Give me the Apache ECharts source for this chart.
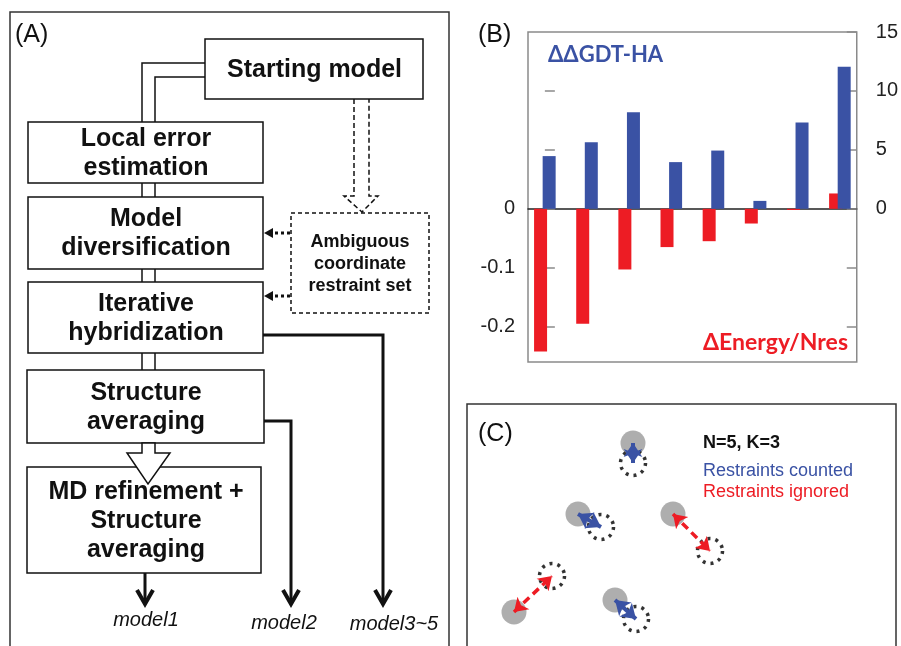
<!DOCTYPE html>
<html>
<head>
<meta charset="utf-8">
<script src="https://cdn.jsdelivr.net/npm/echarts@6/dist/echarts.min.js"></script>
<style>html,body{margin:0;padding:0;background:#fff}#chart{width:901px;height:646px}</style>
</head>
<body>
<div id="chart"></div>
<script>
// ---- Panel B data ----
const caseIdx = [0, 1, 2, 3, 4, 5, 6, 7];
const dEnergyPerRes = [-0.242, -0.195, -0.103, -0.065, -0.055, -0.025, -0.002, 0.026];
const ddGdtHa = [4.47, 5.65, 8.2, 3.96, 4.94, 0.67, 7.33, 12.06];
const leftTickValues = [-0.2, -0.1, 0, 0.1, 0.2];
const leftLabelValues = [-0.2, -0.1, 0];
const rightTickValues = [-10, -5, 0, 5, 10, 15];
const rightLabelValues = [0, 5, 10, 15];

// ---- Panel C data (diagram positions) ----
const atomPos = [[166, 39], [111, 110], [206, 110], [47, 208], [148, 196]];
const refPos = [[166, 59], [134, 123], [243, 147], [85, 172], [169, 215]];
const restraintCounted = [true, true, false, false, true];

// ---- Panel A text ----
const flowBoxes = [
  {text: 'Starting model', x: 205, y: 39, w: 218, h: 60},
  {text: 'Local error\nestimation', x: 28, y: 122, w: 235, h: 61},
  {text: 'Model\ndiversification', x: 28, y: 197, w: 235, h: 72},
  {text: 'Iterative\nhybridization', x: 28, y: 282, w: 235, h: 71},
  {text: 'Structure\naveraging', x: 27, y: 370, w: 237, h: 73},
  {text: 'MD refinement +\nStructure\naveraging', x: 27, y: 467, w: 234, h: 106}
];
const outputLabels = ['model1', 'model2', 'model3~5'];

const BLUE = '#3A52A4', RED = '#ED1C24';
const chart = echarts.init(document.getElementById('chart'));
const G = [];
const sans = 'Liberation Sans, Arial, sans-serif';

// Panel A frame
G.push({type: 'rect', shape: {x: 10, y: 12, width: 439, height: 700}, style: {fill: 'none', stroke: '#333', lineWidth: 1.5}, z: 1});
G.push({type: 'text', x: 15, y: 35, style: {text: '(A)', font: '25px ' + sans, fill: '#111', textVerticalAlign: 'middle'}, z: 5});

// connectors (double lines)
const lineStyle = {stroke: '#111', lineWidth: 1.5, fill: 'none'};
G.push({type: 'polyline', shape: {points: [[205, 63], [142, 63], [142, 122]]}, style: lineStyle, z: 2});
G.push({type: 'polyline', shape: {points: [[205, 77], [155, 77], [155, 122]]}, style: lineStyle, z: 2});
[[183, 197], [269, 282], [353, 370]].forEach(function (s) {
  G.push({type: 'line', shape: {x1: 142, y1: s[0], x2: 142, y2: s[1]}, style: lineStyle, z: 2});
  G.push({type: 'line', shape: {x1: 155, y1: s[0], x2: 155, y2: s[1]}, style: lineStyle, z: 2});
});

// boxes
flowBoxes.forEach(function (b, i) {
  G.push({type: 'rect', shape: {x: b.x, y: b.y, width: b.w, height: b.h}, style: {fill: '#fff', stroke: '#111', lineWidth: 1.5}, z: 3});
  G.push({type: 'text', x: i === 0 ? 314.5 : 146, y: b.y + b.h / 2 + 1,
    style: {text: b.text, font: 'bold 25px ' + sans, fill: '#111', textAlign: 'center', textVerticalAlign: 'middle', lineHeight: 29}, z: 4});
});

// hollow arrow Structure averaging -> MD
G.push({type: 'polygon', shape: {points: [[142, 443], [142, 453], [127, 453], [148, 484], [170, 453], [155, 453], [155, 443]]},
  style: {fill: '#fff', stroke: '#111', lineWidth: 1.5}, z: 5});

// dashed hollow arrow Starting model -> ambiguous set
G.push({type: 'polyline', shape: {points: [[354, 99], [354, 196], [344, 196], [362, 212], [378, 196], [369, 196], [369, 99]]},
  style: {fill: 'none', stroke: '#111', lineWidth: 1.5, lineDash: [5, 3]}, z: 5});

// ambiguous box
G.push({type: 'rect', shape: {x: 291, y: 213, width: 138, height: 100}, style: {fill: '#fff', stroke: '#111', lineWidth: 1.5, lineDash: [4, 3]}, z: 3});
G.push({type: 'text', x: 360, y: 264, style: {text: 'Ambiguous\ncoordinate\nrestraint set', font: 'bold 18px ' + sans, fill: '#111', textAlign: 'center', textVerticalAlign: 'middle', lineHeight: 22}, z: 4});

// dotted arrows
[233, 296].forEach(function (y) {
  G.push({type: 'line', shape: {x1: 290, y1: y, x2: 271, y2: y}, style: {stroke: '#111', lineWidth: 3, lineDash: [3, 3]}, z: 4});
  G.push({type: 'polygon', shape: {points: [[264, y], [273, y - 5], [273, y + 5]]}, style: {fill: '#111'}, z: 4});
});

// thick output arrows
const thick = {stroke: '#111', lineWidth: 3, fill: 'none'};
G.push({type: 'polyline', shape: {points: [[263, 335], [383, 335], [383, 603]]}, style: thick, z: 4});
G.push({type: 'polyline', shape: {points: [[264, 421], [291, 421], [291, 603]]}, style: thick, z: 4});
G.push({type: 'polyline', shape: {points: [[145, 573], [145, 603]]}, style: thick, z: 4});
[145, 291, 383].forEach(function (x) {
  G.push({type: 'polyline', shape: {points: [[x - 8, 590], [x, 604], [x + 8, 590]]}, style: {stroke: '#111', lineWidth: 4, fill: 'none', lineJoin: 'miter'}, z: 4});
});
[[146, 620], [284, 623], [394, 624]].forEach(function (p, i) {
  G.push({type: 'text', x: p[0], y: p[1], style: {text: outputLabels[i], font: 'italic 20px ' + sans, fill: '#111', textAlign: 'center', textVerticalAlign: 'middle'}, z: 4});
});

// Panel B texts
G.push({type: 'text', x: 478, y: 35, style: {text: '(B)', font: '25px ' + sans, fill: '#111', textVerticalAlign: 'middle'}, z: 5});
G.push({type: 'text', x: 548, y: 55, style: {text: '\u0394\u0394GDT-HA', font: 'bold 22px Lato, "Open Sans", sans-serif', fill: BLUE, textVerticalAlign: 'middle'}, z: 5});
G.push({type: 'text', x: 848, y: 343, style: {text: '\u0394Energy/Nres', font: 'bold 23px Lato, "Open Sans", sans-serif', fill: RED, textAlign: 'right', textVerticalAlign: 'middle'}, z: 5});

// Panel C frame and texts
G.push({type: 'rect', shape: {x: 467, y: 404, width: 429, height: 300}, style: {fill: 'none', stroke: '#333', lineWidth: 1.5}, z: 1});
G.push({type: 'text', x: 478, y: 434, style: {text: '(C)', font: '25px ' + sans, fill: '#111', textVerticalAlign: 'middle'}, z: 5});
G.push({type: 'text', x: 703, y: 443, style: {text: 'N=5, K=3', font: 'bold 18px ' + sans, fill: '#111', textVerticalAlign: 'middle'}, z: 5});
G.push({type: 'text', x: 703, y: 471, style: {text: 'Restraints counted', font: '18px ' + sans, fill: BLUE, textVerticalAlign: 'middle'}, z: 5});
G.push({type: 'text', x: 703, y: 492, style: {text: 'Restraints ignored', font: '18px ' + sans, fill: RED, textVerticalAlign: 'middle'}, z: 5});

const countedArrows = [], ignoredArrows = [];
atomPos.forEach(function (p, i) {
  (restraintCounted[i] ? countedArrows : ignoredArrows).push({coords: [p, refPos[i]]});
});

chart.setOption({
  animation: false,
  graphic: {elements: G},
  grid: [
    {left: 528, top: 32, width: 334, height: 330, show: true, borderColor: '#8a8a8a', borderWidth: 1.5, backgroundColor: 'transparent'},
    {left: 467, top: 404, width: 429, height: 242}
  ],
  xAxis: [
    {type: 'value', gridIndex: 0, min: -0.4, max: 7.4, axisLabel: {show: false}, axisTick: {show: false}, splitLine: {show: false},
      axisLine: {show: true, onZero: true, onZeroAxisIndex: 0, lineStyle: {color: '#222', width: 1.5}}},
    {type: 'value', gridIndex: 1, min: 0, max: 429, show: false}
  ],
  yAxis: [
    {type: 'value', gridIndex: 0, position: 'left', min: -0.26, max: 0.3, splitLine: {show: false}, axisLine: {show: false},
      axisTick: {show: true, inside: true, length: 10, customValues: leftTickValues, lineStyle: {color: '#8a8a8a', width: 1.5}},
      axisLabel: {customValues: leftLabelValues, margin: 13, fontSize: 20, color: '#222', fontFamily: sans,
        formatter: function (v) { return v === 0 ? '0' : v.toFixed(1); }}},
    {type: 'value', gridIndex: 0, position: 'right', min: -13, max: 15, splitLine: {show: false}, axisLine: {show: false},
      axisTick: {show: true, inside: true, length: 10, customValues: rightTickValues, lineStyle: {color: '#8a8a8a', width: 1.5}},
      axisLabel: {customValues: rightLabelValues, margin: 19, fontSize: 20, color: '#222', fontFamily: sans,
        formatter: function (v) { return String(v); }}},
    {type: 'value', gridIndex: 1, min: 0, max: 242, inverse: true, show: false}
  ],
  series: [
    {type: 'bar', xAxisIndex: 0, yAxisIndex: 0, barWidth: 13, barGap: '-34%', itemStyle: {color: RED},
      data: caseIdx.map(function (c, i) { return [c, dEnergyPerRes[i]]; }), z: 3},
    {type: 'bar', xAxisIndex: 0, yAxisIndex: 1, barWidth: 13, barGap: '-34%', itemStyle: {color: BLUE},
      data: caseIdx.map(function (c, i) { return [c, ddGdtHa[i]]; }), z: 3},
    {type: 'scatter', xAxisIndex: 1, yAxisIndex: 2, symbol: 'circle', symbolSize: 25, itemStyle: {color: '#9a9a9a'}, data: atomPos, z: 2, silent: true},
    {type: 'scatter', xAxisIndex: 1, yAxisIndex: 2, symbol: 'circle', symbolSize: 25,
      itemStyle: {color: 'rgba(0,0,0,0)', borderColor: '#000', borderWidth: 3.5, borderType: [3, 5]}, data: refPos, z: 2, silent: true},
    {type: 'lines', coordinateSystem: 'cartesian2d', xAxisIndex: 1, yAxisIndex: 2, symbol: ['arrow', 'arrow'], symbolSize: 14,
      lineStyle: {width: 4, opacity: 1, color: BLUE, type: 'solid'}, data: countedArrows, z: 4, silent: true},
    {type: 'lines', coordinateSystem: 'cartesian2d', xAxisIndex: 1, yAxisIndex: 2, symbol: ['arrow', 'arrow'], symbolSize: 13,
      lineStyle: {width: 3.5, opacity: 1, color: RED, type: [8, 5]}, data: ignoredArrows, z: 4, silent: true}
  ]
});
</script>
</body>
</html>
